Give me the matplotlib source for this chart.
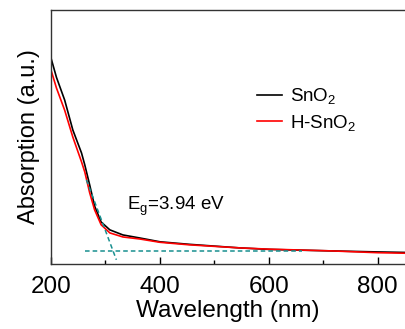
import matplotlib
matplotlib.use('Agg')
import matplotlib.pyplot as plt
from matplotlib.ticker import MultipleLocator

plt.rcParams['font.family'] = ['Liberation Sans', 'DejaVu Sans']
plt.rcParams['mathtext.default'] = 'regular'

# 数据 (读自原图, 任意单位)
wavelength = [200, 210, 225, 240, 256, 262, 271, 280, 292, 308, 332, 363, 400,
              454, 546, 600, 716, 800, 850]
abs_sno2 = [0.811, 0.735, 0.646, 0.528, 0.437, 0.390, 0.311, 0.228, 0.165, 0.134,
            0.114, 0.102, 0.087, 0.077, 0.063, 0.057, 0.051, 0.047, 0.045]
abs_h_sno2 = [0.764, 0.693, 0.606, 0.500, 0.402, 0.362, 0.280, 0.213, 0.154, 0.122,
              0.106, 0.098, 0.085, 0.075, 0.063, 0.058, 0.051, 0.044, 0.042]
tangent_x = [265, 320]
tangent_y = [0.331, 0.016]
baseline_x = [262, 660]
baseline_y = [0.051, 0.051]
labels = ['SnO$_2$', 'H-SnO$_2$']

fig = plt.figure(figsize=(4.05, 3.29), dpi=100)
ax = fig.add_axes([0.126, 0.198, 0.874, 0.771])

ax.plot(wavelength, abs_sno2, color='black', lw=1.2, label=labels[0])
ax.plot(wavelength, abs_h_sno2, color='#ff0000', lw=1.2, label=labels[1])
ax.plot(tangent_x, tangent_y, color='#178f8f', lw=1.1, ls=(0, (3, 2)))
ax.plot(baseline_x, baseline_y, color='#178f8f', lw=1.1, ls=(0, (3, 2)))

ax.text(340, 0.228, 'E$_g$=3.94 eV', fontsize=13.5, va='center', ha='left')

ax.set_xlim(200, 850)
ax.set_ylim(0, 1)
ax.xaxis.set_major_locator(MultipleLocator(200))
ax.xaxis.set_minor_locator(MultipleLocator(100))
ax.tick_params(axis='x', which='major', direction='in', length=5, width=1,
               labelsize=17.5, pad=9)
ax.tick_params(axis='x', which='minor', direction='in', length=3, width=1)
ax.set_yticks([])
ax.spines['right'].set_visible(False)
for s in ['left', 'top', 'bottom']:
    ax.spines[s].set_linewidth(1)
    ax.spines[s].set_color('#333333')

ax.set_xlabel('Wavelength (nm)', fontsize=17.5, labelpad=1)
ax.set_ylabel('Absorption (a.u.)', fontsize=17, labelpad=8)

ax.legend(loc='upper left', bbox_to_anchor=(0.583, 0.70), frameon=False,
          fontsize=13.5, handlelength=1.3, handletextpad=0.45,
          borderpad=0, borderaxespad=0, labelspacing=0.35)

fig.savefig('out.png', dpi=100)
